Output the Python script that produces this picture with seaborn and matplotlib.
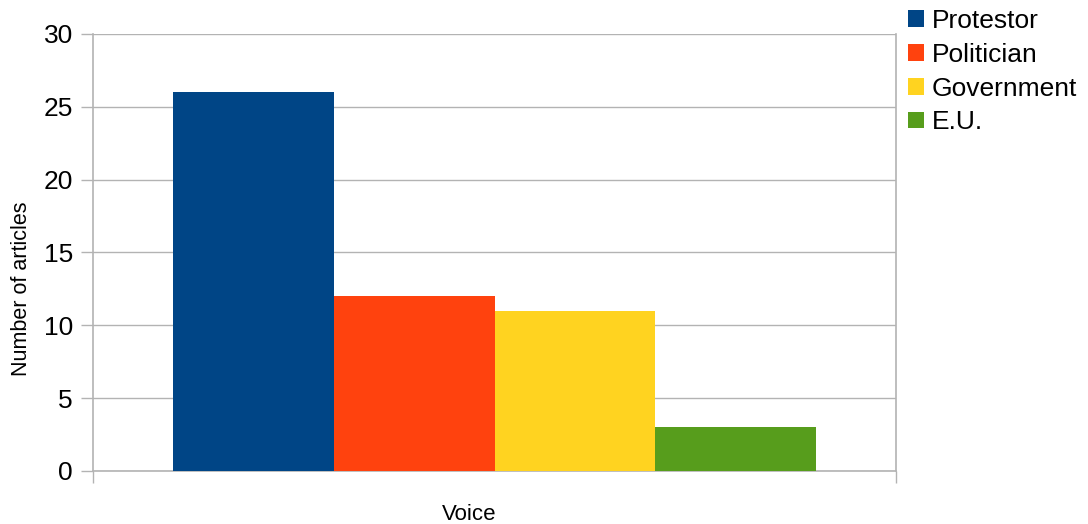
import matplotlib
matplotlib.use("Agg")
import matplotlib.pyplot as plt
import seaborn as sns
import pandas as pd
from matplotlib.patches import Patch

categories = ["Voice"]
groups = ["Protestor", "Politician", "Government", "E.U."]
counts = [26, 12, 11, 3]
colors = ["#004586", "#ff420e", "#ffd320", "#579d1c"]

df = pd.DataFrame({"category": categories * len(groups), "group": groups, "count": counts})

sns.set_theme(style="white")
plt.rcParams["font.family"] = ["Liberation Sans", "DejaVu Sans"]
plt.rcParams["text.color"] = "black"

W, H = 1088, 524
fig = plt.figure(figsize=(W / 100, H / 100), dpi=100)
ax = fig.add_axes([93 / W, 1 - 471 / H, (896 - 93) / W, (471 - 34) / H])

sns.barplot(data=df, x="category", y="count", hue="group", hue_order=groups,
            palette=colors, width=0.8, gap=0, saturation=1, legend=False,
            edgecolor="none", linewidth=0, ax=ax, zorder=3)

grid_c = "#b3b3b3"
tick_len = 12 * 0.72
ax.set_ylim(0, 30)
ax.set_xlim(-0.5, 0.5)
ax.set_yticks(range(0, 31, 5))
ax.yaxis.grid(True, color=grid_c, linewidth=1, zorder=0)
ax.set_axisbelow(True)
for side in ["left", "right", "bottom"]:
    ax.spines[side].set_visible(True)
    ax.spines[side].set_color(grid_c)
    ax.spines[side].set_linewidth(1.2)
ax.spines["top"].set_visible(False)

ax.tick_params(axis="y", which="major", length=tick_len, width=1, color=grid_c,
               direction="out", left=True, labelsize=19, labelcolor="black", pad=5.8)
ax.set_xticks([0])
ax.set_xticklabels([""])
ax.tick_params(axis="x", which="major", length=0)
ax.set_xticks([-0.5, 0.5], minor=True)
ax.tick_params(axis="x", which="minor", length=tick_len, width=1, color=grid_c,
               direction="out", bottom=True)
ax.set_xlabel("")
ax.set_ylabel("")

# category and axis titles
fig.text(469.5 / W, 1 - 520 / H, categories[0], fontsize=16, color="black",
         ha="center", va="baseline")
fig.text(22 / W, 1 - 289 / H, "Number of articles", fontsize=15.5, color="black",
         rotation=90, ha="center", va="center")

handles = [Patch(facecolor=c, edgecolor="none", label=g) for g, c in zip(groups, colors)]
leg = fig.legend(handles=handles, loc="upper left", bbox_to_anchor=(908 / W, 1 - 9 / H),
                 frameon=False, fontsize=19, handlelength=0.6, handleheight=0.6,
                 handletextpad=0.3, labelspacing=0.37, borderaxespad=0, borderpad=0)
for t in leg.get_texts():
    t.set_color("black")

fig.savefig("out.png", dpi=100)
